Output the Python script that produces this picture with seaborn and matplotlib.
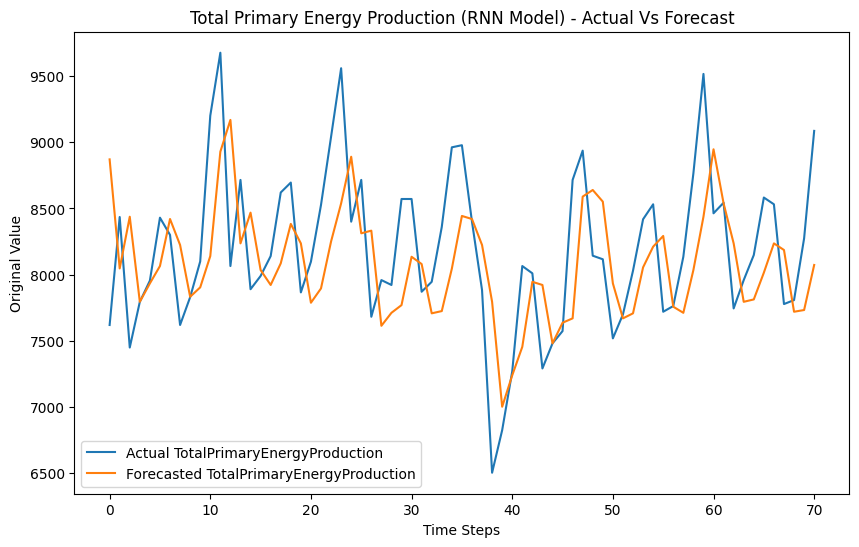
import matplotlib
matplotlib.use("Agg")
import matplotlib.pyplot as plt
import seaborn as sns
import pandas as pd

time_steps = list(range(71))
actual = [7620, 8435, 7450, 7795, 7955, 8430, 8300, 7620, 7830, 8100,
          9200, 9675, 8065, 8715, 7890, 7990, 8140, 8620, 8695, 7866,
          8098, 8526, 9040, 9558, 8400, 8715, 7682, 7959, 7922, 8571,
          8571, 7871, 7946, 8360, 8961, 8977, 8400, 7884, 6505, 6826,
          7270, 8065, 8010, 7292, 7481, 7574, 8715, 8936, 8143, 8116,
          7519, 7700, 8030, 8418, 8531, 7720, 7763, 8135, 8765, 9515,
          8463, 8543, 7745, 7959, 8148, 8582, 8531, 7778, 7808, 8274,
          9085]
forecast = [8870, 8047, 8437, 7795, 7934, 8065, 8420, 8224, 7833, 7904,
            8140, 8928, 9168, 8236, 8468, 8035, 7922, 8085, 8383, 8236,
            7788, 7896, 8250, 8538, 8890, 8312, 8332, 7614, 7712, 7770,
            8135, 8080, 7708, 7725, 8045, 8443, 8420, 8224, 7795, 7003,
            7240, 7455, 7946, 7922, 7481, 7637, 7670, 8589, 8639, 8551,
            7934, 7670, 7708, 8055, 8211, 8292, 7758, 7712, 8035, 8437,
            8946, 8538, 8236, 7795, 7813, 8015, 8236, 8186, 7720, 7733,
            8073]

df = pd.DataFrame({"t": time_steps, "actual": actual, "forecast": forecast})

fig, ax = plt.subplots(figsize=(10, 6), dpi=100)
sns.lineplot(data=df, x="t", y="actual", ax=ax, color="#1f77b4",
             label="Actual TotalPrimaryEnergyProduction")
sns.lineplot(data=df, x="t", y="forecast", ax=ax, color="#ff7f0e",
             label="Forecasted TotalPrimaryEnergyProduction")
ax.set_title("Total Primary Energy Production (RNN Model) - Actual Vs Forecast")
ax.set_xlabel("Time Steps")
ax.set_ylabel("Original Value")
ax.legend(loc="lower left")
fig.savefig("out.png", dpi=100, bbox_inches="tight")
